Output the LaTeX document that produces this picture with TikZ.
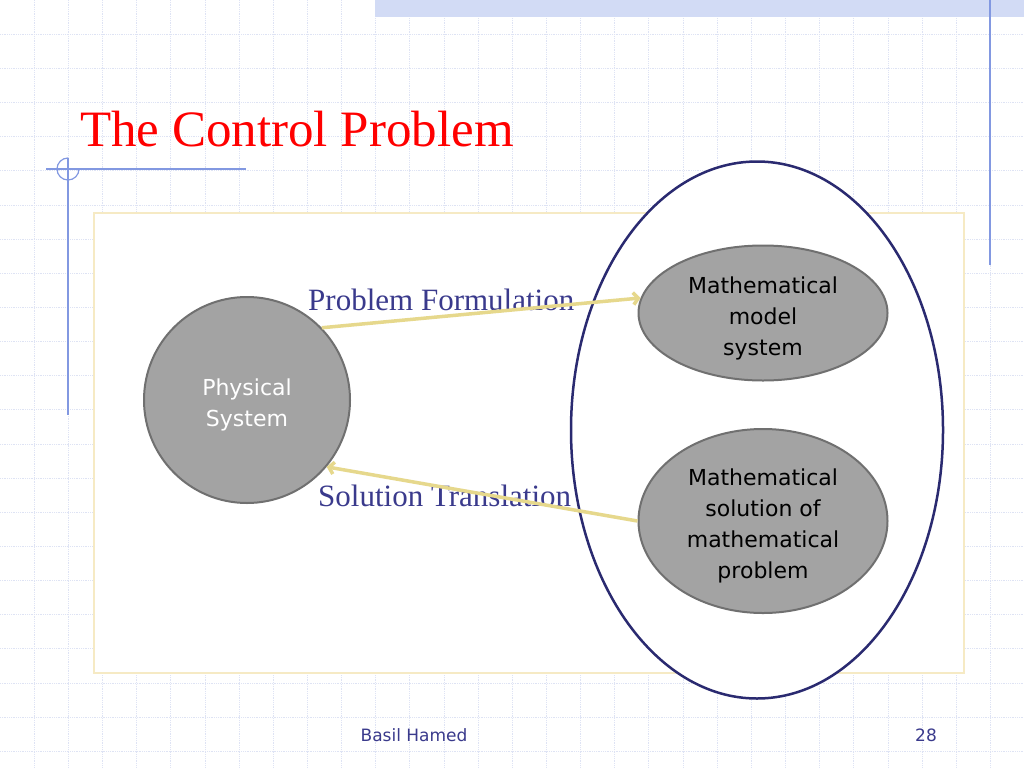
\documentclass[tikz,border=0pt]{standalone}
\usepackage{fontspec}
\setmainfont{Liberation Serif}
\newfontfamily\slidesans{DejaVu Sans}
\usetikzlibrary{shapes.geometric,arrows.meta}

\definecolor{gridblue}{RGB}{222,227,244}
\definecolor{bandblue}{RGB}{210,219,245}
\definecolor{decoblue}{RGB}{130,152,225}
\definecolor{panelyellow}{RGB}{246,234,196}
\definecolor{regionnavy}{RGB}{42,42,112}
\definecolor{labelnavy}{RGB}{58,58,140}
\definecolor{nodegray}{RGB}{163,163,163}
\definecolor{nodeedge}{RGB}{112,112,112}
\definecolor{arrowkhaki}{RGB}{230,216,140}

\newcommand{\padtop}{\rule{0pt}{27pt}}

\begin{document}
\begin{tikzpicture}[x=1pt, y=-1pt, node distance=208pt,
  sysnode/.style={circle, draw=nodeedge, fill=nodegray, line width=2pt, minimum size=206pt, inner sep=0pt, text=white, align=center, font=\slidesans\fontsize{22}{31}\selectfont},
  mathnode/.style={ellipse, draw=nodeedge, fill=nodegray, line width=2pt, minimum width=249pt, inner sep=0pt, align=center, font=\slidesans\fontsize{22}{31}\selectfont},
  region/.style={ellipse, draw=regionnavy, fill=white, line width=2.5pt, minimum width=372pt, minimum height=537pt, inner sep=0pt},
  flowarrow/.style={-{Straight Barb[length=5pt,width=12pt]}, draw=arrowkhaki, line width=3.5pt},
  flowlabel/.style={anchor=base west, inner sep=0pt, text=labelnavy, font=\fontsize{31}{36}\selectfont},
  footer/.style={text=labelnavy, font=\slidesans\fontsize{17}{20}\selectfont},
  gridline/.style={draw=gridblue, densely dotted, line width=0.8pt}]

  \useasboundingbox[fill=white] (0,0) rectangle (1024,768);

  % slide background
  \foreach \k in {1,...,29} \draw[gridline] (\k*34.15,0) -- (\k*34.15,768);
  \foreach \k in {1,...,22} \draw[gridline] (0,\k*34.15) -- (1024,\k*34.15);
  \fill[bandblue] (375,0) rectangle (1024,17);
  \draw[decoblue, line width=1.5pt] (990,0) -- (990,265);
  \draw[decoblue, line width=1.2pt] (68,158) -- (68,415);
  \draw[decoblue, line width=1.2pt] (46,169) -- (246,169);
  \draw[decoblue, line width=1.2pt] (68,158) arc[start angle=270, end angle=0, radius=11];

  \node[anchor=base west, inner sep=0pt, text=red, font=\fontsize{51}{60}\selectfont] (title) at (80,146) {The Control Problem};

  \draw[draw=panelyellow, fill=white, line width=2.5pt] (94,213) rectangle (964,673);

  \node[region] (domain) at (757,430) {};

  \node[flowlabel] (formlabel) at (308,310) {Problem Formulation};
  \node[flowlabel] (translabel) at (318,506) {Solution Translation};

  \node[sysnode] (phys) at (247,400) {\padtop Physical\\System};
  \node[mathnode, minimum height=135pt] (model) at (763,313) {\padtop Mathematical\\model\\system};
  \node[mathnode, minimum height=184pt, below of=model] (solution) {\padtop Mathematical\\solution of\\mathematical\\problem};

  \draw[flowarrow] (phys.44) -- (model.173);
  \draw[flowarrow] (solution.west) -- (phys.-40);

  \node[footer] (author) at (414,735) {Basil Hamed};
  \node[footer] (page) at (926,735) {28};
\end{tikzpicture}
\end{document}
